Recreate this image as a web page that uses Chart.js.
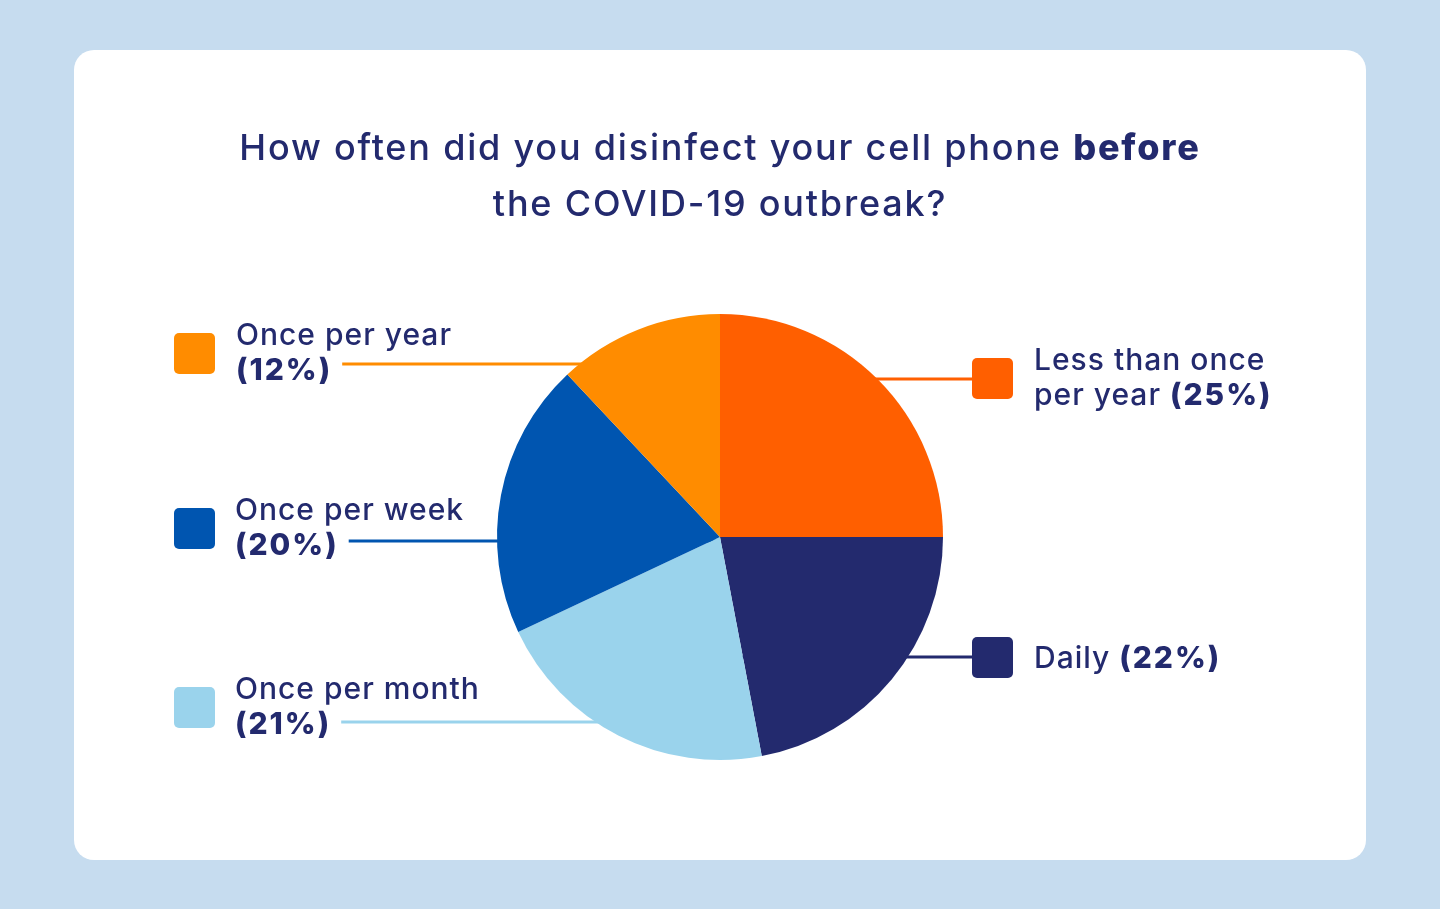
<!DOCTYPE html>
<html>
<head>
<meta charset="utf-8">
<script src="https://cdn.jsdelivr.net/npm/chart.js@4"></script>
<style>
  html, body { margin: 0; padding: 0; background: #C6DCEF; }
  #wrap { width: 1440px; height: 909px; position: relative; }
</style>
</head>
<body>
<div id="wrap"><canvas id="pie-chart"></canvas></div>
<script>
// Survey data, clockwise from 12 o'clock
const categories = ['Less than once per year', 'Daily', 'Once per month', 'Once per week', 'Once per year'];
const shares = [25, 22, 21, 20, 12];
const sliceColors = ['#FF5F00', '#232A6E', '#9AD3EC', '#0055B0', '#FF8C00'];

// How each legend label is split into lines (percentage goes bold at the end of the last line)
const labelLines = [
    ['Less than once', 'per year'],
    ['Daily'],
    ['Once per month', ''],
    ['Once per week', ''],
    ['Once per year', '']
];

const titleLines = [
    [['How often did you disinfect your cell phone ', false], ['before', true]],
    [['the COVID-19 outbreak?', false]]
];

const NAVY = '#232A6E';
const FONT = 'Inter, Lato, sans-serif';

// where each legend box sits and which side of the pie it is on
const legendSpots = [
    { side: 'right', box: [972, 358], text: [1034, 370], lineY: 379 },
    { side: 'right', box: [972, 637], text: [1034, 668], lineY: 657 },
    { side: 'left', box: [174, 687], text: [235, 699], lineY: 722 },
    { side: 'left', box: [174, 508], text: [235, 520], lineY: 541 },
    { side: 'left', box: [174, 333], text: [236, 345], lineY: 364 }
];

function roundRect(ctx, x, y, w, h, r) {
    ctx.beginPath();
    ctx.moveTo(x + r, y);
    ctx.arcTo(x + w, y, x + w, y + h, r);
    ctx.arcTo(x + w, y + h, x, y + h, r);
    ctx.arcTo(x, y + h, x, y, r);
    ctx.arcTo(x, y, x + w, y, r);
    ctx.closePath();
}

function setFont(ctx, bold, size, spacing) {
    ctx.font = (bold ? '800 ' : '500 ') + size + 'px ' + FONT;
    ctx.letterSpacing = spacing + 'px';
}

// legend text style
function legendFont(ctx, bold) {
    if (bold) setFont(ctx, true, 30, 2);
    else setFont(ctx, false, 30, 1);
}

// background card + title + leader lines (behind the pie)
const backdrop = {
    id: 'backdrop',
    beforeDraw(chart) {
        const ctx = chart.ctx;
        ctx.save();
        ctx.fillStyle = '#C6DCEF';
        ctx.fillRect(0, 0, chart.width, chart.height);
        ctx.fillStyle = '#FFFFFF';
        roundRect(ctx, 74, 50, 1292, 810, 20);
        ctx.fill();

        // title, centred, with bold word
        ctx.fillStyle = NAVY;
        ctx.textBaseline = 'alphabetic';
        titleLines.forEach((parts, i) => {
            const y = 160 + i * 56;
            let total = 0;
            parts.forEach(p => {
                setFont(ctx, p[1], 36, 1.8);
                total += ctx.measureText(p[0]).width;
            });
            let x = 720 - total / 2;
            parts.forEach(p => {
                setFont(ctx, p[1], 36, 1.8);
                ctx.fillText(p[0], x, y);
                x += ctx.measureText(p[0]).width;
            });
        });
        ctx.restore();
    },
    beforeDatasetsDraw(chart) {
        const ctx = chart.ctx;
        const arc = chart.getDatasetMeta(0).data[0];
        const cx = arc.x;
        ctx.save();
        ctx.lineWidth = 3;
        legendSpots.forEach((spot, i) => {
            ctx.strokeStyle = sliceColors[i];
            ctx.beginPath();
            if (spot.side === 'right') {
                ctx.moveTo(cx, spot.lineY);
                ctx.lineTo(spot.box[0], spot.lineY);
            } else {
                // line starts after the bold percentage text
                legendFont(ctx, true);
                const w = ctx.measureText('(' + shares[i] + '%)').width;
                ctx.moveTo(spot.text[0] + w + 10, spot.lineY);
                ctx.lineTo(cx, spot.lineY);
            }
            ctx.stroke();
        });
        ctx.restore();
    },
    afterDraw(chart) {
        const ctx = chart.ctx;
        ctx.save();
        legendSpots.forEach((spot, i) => {
            ctx.fillStyle = sliceColors[i];
            roundRect(ctx, spot.box[0], spot.box[1], 41, 41, 5);
            ctx.fill();

            ctx.fillStyle = NAVY;
            const lines = labelLines[i];
            const pct = '(' + shares[i] + '%)';
            lines.forEach((txt, j) => {
                const y = spot.text[1] + j * 35;
                legendFont(ctx, false);
                ctx.fillText(txt, spot.text[0], y);
                if (j === lines.length - 1) {
                    const w = txt ? ctx.measureText(txt + ' ').width : 0;
                    legendFont(ctx, true);
                    ctx.fillText(pct, spot.text[0] + w, y);
                }
            });
        });
        ctx.restore();
    }
};

function initChart() {
    const canvas = document.getElementById('pie-chart');
    new Chart(canvas, {
        type: 'pie',
        data: {
            labels: categories,
            datasets: [{
                data: shares,
                backgroundColor: sliceColors,
                borderWidth: 0,
                hoverOffset: 0
            }]
        },
        options: {
            responsive: true,
            maintainAspectRatio: false,
            animation: false,
            layout: {
                padding: { top: 314, bottom: 149, left: 497, right: 497 }
            },
            plugins: {
                legend: { display: false },
                tooltip: { enabled: false }
            }
        },
        plugins: [backdrop]
    });
}

document.addEventListener('DOMContentLoaded', initChart);
</script>
</body>
</html>
